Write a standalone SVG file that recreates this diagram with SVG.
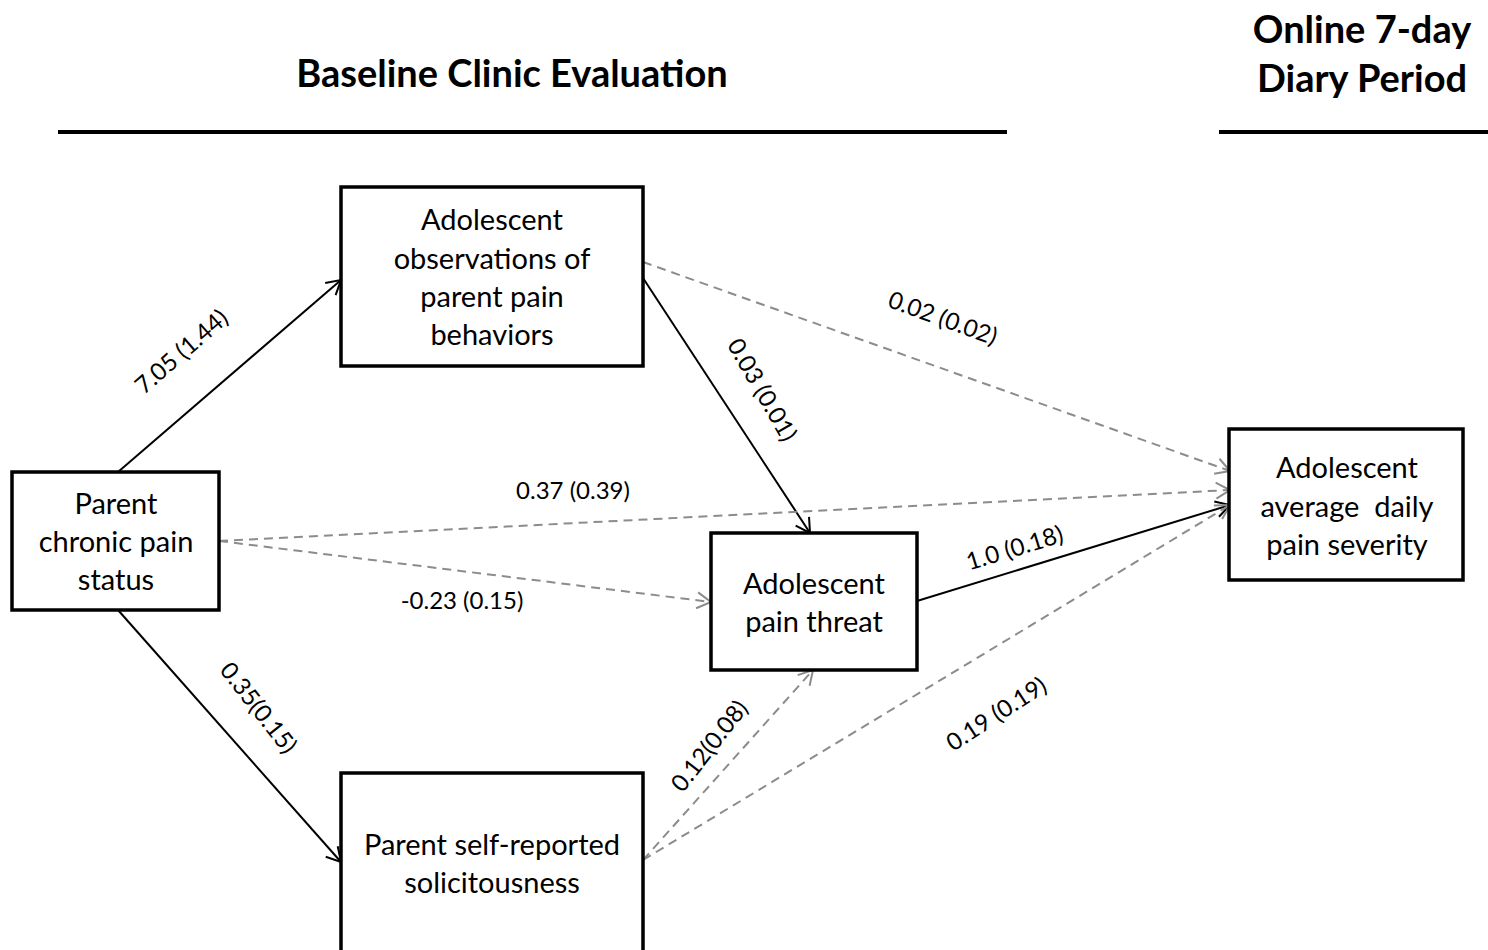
<svg xmlns="http://www.w3.org/2000/svg" width="1488" height="950" viewBox="0 0 1488 950">
<style>
.box{fill:#fff;stroke:#000;stroke-width:3.5}
.nt{font-family:Lato,"Open Sans",sans-serif;font-size:29px;text-anchor:middle;fill:#000}
.el{font-family:Lato,"Open Sans",sans-serif;font-size:24px;text-anchor:middle;fill:#000}
.hd{font-family:Lato,"Open Sans",sans-serif;font-size:38px;font-weight:bold;text-anchor:middle;fill:#000}
.solid{stroke:#000;stroke-width:2;fill:none}
.dash{stroke:#8c8c8c;stroke-width:2;stroke-dasharray:9 6;fill:none}
</style>
<defs>
<marker id="ab" markerUnits="userSpaceOnUse" markerWidth="20" markerHeight="20" viewBox="0 0 20 20" refX="18" refY="10" orient="auto">
<path d="M4,2 L18,10 L4,18" fill="none" stroke="#000" stroke-width="2"/>
</marker>
<marker id="ag" markerUnits="userSpaceOnUse" markerWidth="20" markerHeight="20" viewBox="0 0 20 20" refX="18" refY="10" orient="auto">
<path d="M4,2 L18,10 L4,18" fill="none" stroke="#8c8c8c" stroke-width="2"/>
</marker>
</defs>
<rect width="1488" height="950" fill="#fff"/>
<g id="headers">
<text class="hd" x="512" y="87">Baseline Clinic Evaluation</text>
<line x1="58" y1="132" x2="1007" y2="132" stroke="#000" stroke-width="4"/>
<text class="hd" x="1362" y="43">Online 7-day</text>
<text class="hd" x="1362" y="92">Diary Period</text>
<line x1="1219" y1="132" x2="1488" y2="132" stroke="#000" stroke-width="4"/>
</g>
<g id="connectors">
<line class="solid" x1="118" y1="472" x2="341" y2="280" marker-end="url(#ab)"/>
<line class="solid" x1="118" y1="610" x2="341" y2="862" marker-end="url(#ab)"/>
<line class="solid" x1="643" y1="278" x2="810" y2="533" marker-end="url(#ab)"/>
<line class="dash" x1="643" y1="262" x2="1230" y2="471" marker-end="url(#ag)"/>
<line class="dash" x1="219" y1="541" x2="1230" y2="490" marker-end="url(#ag)"/>
<line class="dash" x1="219" y1="541" x2="711" y2="602" marker-end="url(#ag)"/>
<line class="solid" x1="917" y1="601" x2="1230" y2="505" marker-end="url(#ab)"/>
<line class="dash" x1="643" y1="860" x2="813" y2="670" marker-end="url(#ag)"/>
<line class="dash" x1="643" y1="860" x2="1230" y2="505" marker-end="url(#ag)"/>
<text class="el" transform="translate(187,358) rotate(-41)">7.05 (1.44)</text>
<text class="el" transform="translate(940,326) rotate(20)">0.02 (0.02)</text>
<text class="el" transform="translate(755,394) rotate(60)">0.03 (0.01)</text>
<text class="el" x="573" y="499">0.37 (0.39)</text>
<text class="el" x="462" y="609">-0.23 (0.15)</text>
<text class="el" transform="translate(1017,556) rotate(-17)">1.0 (0.18)</text>
<text class="el" transform="translate(252,713) rotate(52)">0.35(0.15)</text>
<text class="el" transform="translate(716,751) rotate(-52)">0.12(0.08)</text>
<text class="el" transform="translate(1001,721) rotate(-33)">0.19 (0.19)</text>
</g>
<g id="node-obs">
<rect class="box" x="341" y="187" width="302" height="179"/>
<text class="nt" x="492" y="230">Adolescent</text>
<text class="nt" x="492" y="269">observations of</text>
<text class="nt" x="492" y="307">parent pain</text>
<text class="nt" x="492" y="345">behaviors</text>
</g>
<g id="node-parent">
<rect class="box" x="12" y="472" width="207" height="138"/>
<text class="nt" x="116" y="514">Parent</text>
<text class="nt" x="116" y="552">chronic pain</text>
<text class="nt" x="116" y="590">status</text>
</g>
<g id="node-threat">
<rect class="box" x="711" y="533" width="206" height="137"/>
<text class="nt" x="814" y="594">Adolescent</text>
<text class="nt" x="814" y="632">pain threat</text>
</g>
<g id="node-solicit">
<rect class="box" x="341" y="773" width="302" height="190"/>
<text class="nt" x="492" y="855">Parent self-reported</text>
<text class="nt" x="492" y="893">solicitousness</text>
</g>
<g id="node-severity">
<rect class="box" x="1229" y="429" width="234" height="151"/>
<text class="nt" x="1347" y="478">Adolescent</text>
<text class="nt" x="1347" y="517" xml:space="preserve">average  daily</text>
<text class="nt" x="1347" y="555">pain severity</text>
</g>
</svg>
